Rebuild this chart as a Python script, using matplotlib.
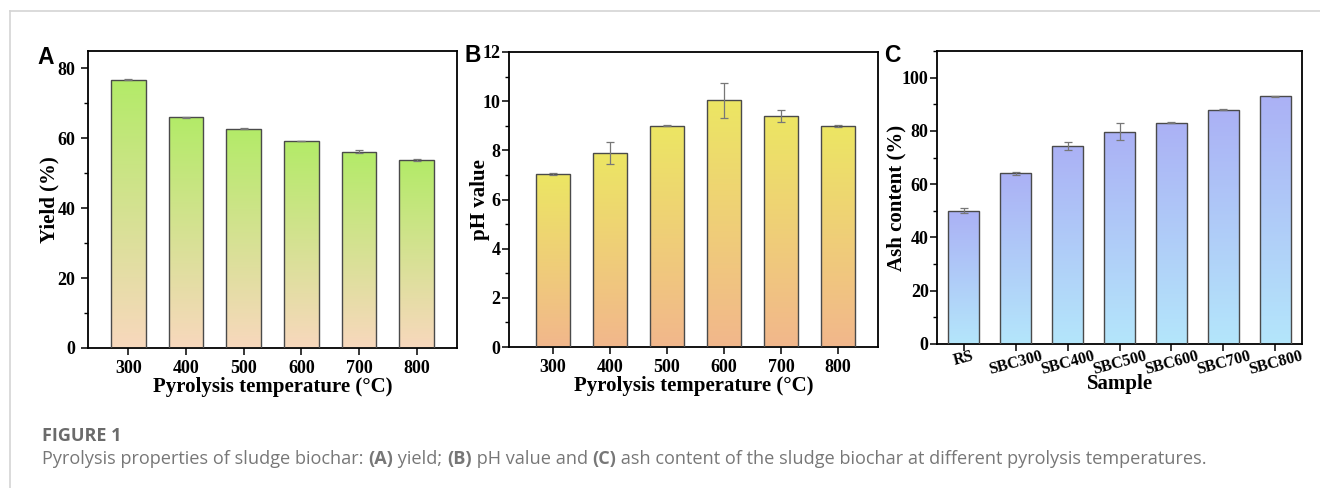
import matplotlib
matplotlib.use("Agg")
import matplotlib.pyplot as plt
import numpy as np
from matplotlib.colors import LinearSegmentedColormap
from matplotlib.lines import Line2D
from matplotlib.ticker import MultipleLocator

# data
temps = ["300", "400", "500", "600", "700", "800"]
yield_pct = [76.8, 66.0, 62.8, 59.2, 56.2, 53.8]
yield_err = [0.1, 0.1, 0.2, 0.1, 0.4, 0.3]
ph_value = [7.03, 7.9, 9.0, 10.03, 9.4, 9.0]
ph_err = [0.05, 0.45, 0.02, 0.7, 0.24, 0.05]
samples = ["RS", "SBC300", "SBC400", "SBC500", "SBC600", "SBC700", "SBC800"]
ash_pct = [50.0, 64.1, 74.4, 79.6, 83.1, 87.9, 93.0]
ash_err = [0.9, 0.5, 1.6, 3.2, 0.3, 0.2, 0.1]

SERIF = "Liberation Serif"
SANS = "Liberation Sans"
plt.rcParams.update({"font.family": SERIF, "font.weight": "bold"})

W, H = 1320, 488
fig = plt.figure(figsize=(W / 100, H / 100), dpi=100)
fig.patch.set_facecolor("white")

# page frame lines from the screenshot
fig.add_artist(Line2D([10 / W, 1], [1 - 11 / H] * 2, color="#d4d4d4", lw=1.2))
fig.add_artist(Line2D([10 / W] * 2, [0, 1 - 11 / H], color="#d4d4d4", lw=1.2))


def grad_bars(ax, labels, vals, errs, c_bot, c_top, width=0.6):
    cmap = LinearSegmentedColormap.from_list("g", [c_bot, c_top])
    x = np.arange(len(vals))
    bars = ax.bar(x, vals, width=width, facecolor="none", edgecolor="#4a4a4a", lw=1.0, zorder=3)
    grad = np.linspace(0, 1, 256).reshape(-1, 1)
    for b in bars:
        x0, w, h = b.get_x(), b.get_width(), b.get_height()
        im = ax.imshow(grad, cmap=cmap, origin="lower", aspect="auto",
                       extent=[x0, x0 + w, 0, h], zorder=2)
        im.set_clip_path(b)
    ax.errorbar(x, vals, yerr=errs, fmt="none", ecolor="#777777", elinewidth=0.9,
                capsize=3, capthick=0.9, zorder=4)
    ax.set_xticks(x)
    ax.set_xticklabels(labels)
    return x


def style(ax, ymax, major, minor, ypad):
    ax.set_ylim(0, ymax)
    ax.yaxis.set_major_locator(MultipleLocator(major))
    ax.yaxis.set_minor_locator(MultipleLocator(minor))
    ax.tick_params(axis="both", which="major", direction="out", length=5, width=1.1,
                   labelsize=13, top=False, right=False)
    ax.tick_params(axis="y", which="major", pad=ypad)
    ax.tick_params(axis="y", which="minor", direction="out", length=3, width=1.0)
    ax.tick_params(axis="x", which="minor", bottom=False)
    for s in ax.spines.values():
        s.set_linewidth(1.3)
    for t in ax.get_xticklabels() + ax.get_yticklabels():
        t.set_fontweight("bold")


def box(l, r, t, b):
    return [l / W, 1 - b / H, (r - l) / W, (b - t) / H]


# A: yield
axA = fig.add_axes(box(88, 457, 51, 348))
grad_bars(axA, temps, yield_pct, yield_err, "#f8d8bd", "#b3eb68")
axA.set_xlim(-0.7, 5.7)
style(axA, 85, 20, 10, 4)
axA.set_xlabel("Pyrolysis temperature (°C)", fontsize=15, fontweight="bold", labelpad=0)
axA.set_ylabel("Yield (%)", fontsize=15, fontweight="bold", labelpad=-1.5)

# B: pH
axB = fig.add_axes(box(509, 878, 52, 347))
grad_bars(axB, temps, ph_value, ph_err, "#f2b78c", "#ece663")
axB.set_xlim(-0.77, 5.7)
style(axB, 12, 2, 1, 1)
axB.get_yticklabels()[-1].set_fontsize(9.5)
axB.set_xlabel("Pyrolysis temperature (°C)", fontsize=15, fontweight="bold", labelpad=0)
axB.set_ylabel("pH value", fontsize=15, fontweight="bold", labelpad=-5)

# C: ash content
axC = fig.add_axes(box(937, 1302, 51, 344))
grad_bars(axC, samples, ash_pct, ash_err, "#b4e6fb", "#abb1f5")
axC.set_xlim(-0.51, 6.51)
style(axC, 110, 20, 10, 1)
axC.tick_params(axis="x", which="major", pad=-2)
for t in axC.get_xticklabels():
    t.set_rotation(15)
    t.set_fontsize(11.5)
axC.set_xlabel("Sample", fontsize=15, fontweight="bold", labelpad=-3)
axC.set_ylabel("Ash content (%)", fontsize=15, fontweight="bold", labelpad=-3)

# panel letters
for lx, ly, s in [(37, 57, "A"), (465, 56, "B"), (884, 56, "C")]:
    fig.text(lx / W, 1 - ly / H, s, family=SANS, fontweight="bold", fontsize=16.5,
             ha="left", va="center")

# caption
fig.text(42 / W, 1 - 436 / H, "FIGURE 1", family="Open Sans", fontweight="bold",
         fontsize=13, color="#6b6b6b", va="center")
parts = [("Pyrolysis properties of sludge biochar: ", "normal"), ("(A)", "bold"),
         (" yield; ", "normal"), ("(B)", "bold"), (" pH value and ", "normal"),
         ("(C)", "bold"),
         (" ash content of the sludge biochar at different pyrolysis temperatures.", "normal")]
renderer = fig.canvas.get_renderer()
xpos = 42
for s, wt in parts:
    t = fig.text(xpos / W, 1 - 464 / H, s, family="Open Sans", fontweight=wt,
                 fontsize=13.1, color="#777777", va="baseline")
    xpos += t.get_window_extent(renderer).width

fig.savefig("out.png", dpi=100, facecolor="white")
